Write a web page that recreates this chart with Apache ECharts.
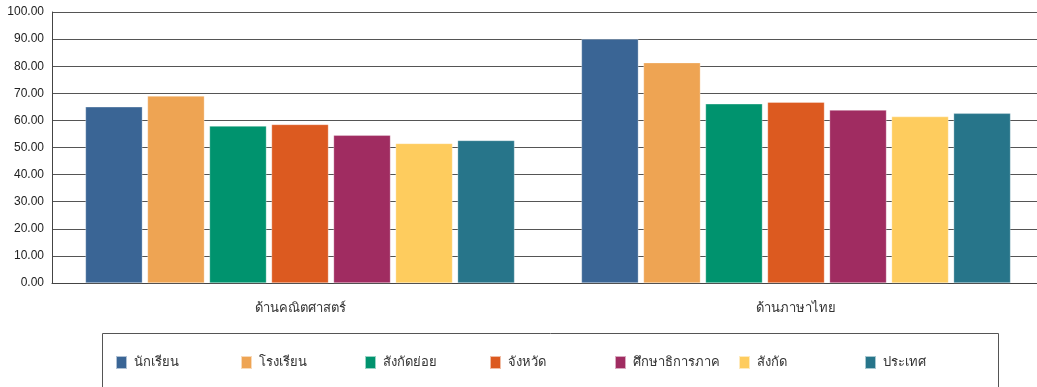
<!DOCTYPE html>
<html><head><meta charset="utf-8">
<script src="https://cdn.jsdelivr.net/npm/echarts@6/dist/echarts.min.js"></script>
<style>html,body{margin:0;padding:0;background:#fff}#c{width:1037px;height:387px}</style>
</head><body><div id="c"></div>
<script>
const categories = ['ด้านคณิตศาสตร์', 'ด้านภาษาไทย'];
const seriesNames = ['นักเรียน', 'โรงเรียน', 'สังกัดย่อย', 'จังหวัด', 'ศึกษาธิการภาค', 'สังกัด', 'ประเทศ'];
const student = [65.0, 90.0];
const school = [69.0, 81.3];
const subAffil = [57.9, 66.1];
const province = [58.5, 66.7];
const region = [54.5, 63.8];
const affil = [51.5, 61.4];
const country = [52.6, 62.6];
const seriesValues = [student, school, subAffil, province, region, affil, country];
const colors = ['#3A6595', '#EEA453', '#00936E', '#DC5A20', '#A02C61', '#FECC5E', '#27758A'];
const legendLefts = [115, 240, 364, 489, 614, 738, 864];

const chart = echarts.init(document.getElementById('c'));
chart.setOption({
  animation: false,
  color: colors,
  grid: { left: 52, right: -7, top: 12, bottom: 104, containLabel: false, outerBoundsMode: 'none' },
  graphic: [{
    type: 'rect', left: 100, top: 331, z: -1,
    shape: { width: 896, height: 80 },
    style: { fill: 'none', stroke: '#555', lineWidth: 1 }
  }],
  xAxis: {
    type: 'category', data: categories,
    axisLine: { lineStyle: { color: '#444', width: 1 } },
    axisTick: { show: false },
    axisLabel: { color: '#333', fontSize: 13, margin: 19, fontFamily: 'Tahoma, "Noto Sans", sans-serif' }
  },
  yAxis: {
    type: 'value', min: 0, max: 100, interval: 10,
    axisLine: { show: true, lineStyle: { color: '#444', width: 1 } },
    axisTick: { show: false },
    splitLine: { lineStyle: { color: '#555', width: 1 } },
    axisLabel: { color: '#222', fontSize: 12, margin: 8, fontFamily: '"Liberation Sans", Arial, sans-serif', formatter: v => v.toFixed(2) }
  },
  legend: seriesNames.map((n, i) => ({
    left: legendLefts[i], top: 355,
    padding: 0,
    itemWidth: 11, itemHeight: 13, itemGap: 0,
    icon: 'rect',
    textStyle: { color: '#333', fontSize: 13, padding: [0, 0, 0, 2], fontFamily: 'Tahoma, "Noto Sans", sans-serif' },
    data: [n]
  })),
  series: seriesNames.map((n, i) => ({
    name: n, type: 'bar', data: seriesValues[i],
    barGap: '9%', barCategoryGap: '13.5%',
    itemStyle: { color: colors[i], borderColor: 'rgba(255,255,255,0.6)', borderWidth: 0.5 }
  }))
});
</script></body></html>
